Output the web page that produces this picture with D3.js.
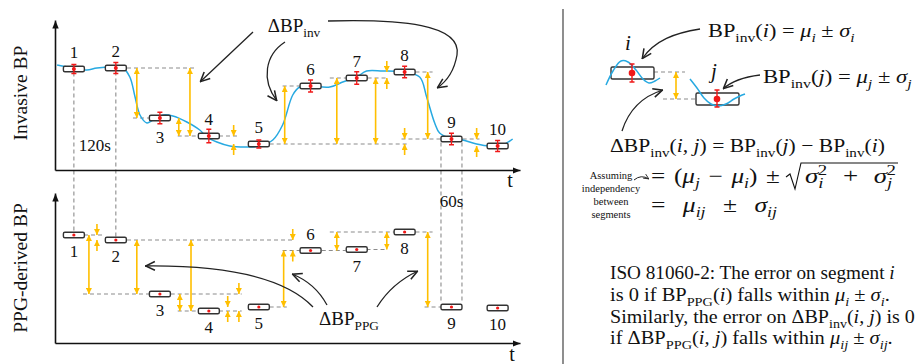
<!DOCTYPE html>
<html>
<head>
<meta charset="utf-8">
<script src="https://cdn.jsdelivr.net/npm/d3@7"></script>
<style>
  body { margin: 0; background: #fff; }
</style>
</head>
<body>
<div id="chart"></div>
<script>
// segment data (time in s = centre of 60 s segment, BP in mmHg)
var segLabels = ["1", "2", "3", "4", "5", "6", "7", "8", "9", "10"];
var segTime = [54, 174, 300, 440, 583, 731, 863, 1000, 1134, 1266];
var invMean = [110.4, 110.8, 90.8, 83.6, 80.4, 103.6, 106.8, 109.2, 82.4, 79.6];
var invSigma = [1.8, 2.2, 2.3, 2.7, 1.6, 2.4, 2.5, 2.3, 2.3, 2.2];
var ppgMean = [113.2, 111.2, 89.6, 82.8, 84.4, 107.0, 107.4, 114.4, 84.4, 84.0];
var invLabelSide = ["up", "up", "down", "up", "up", "up", "up", "up", "up", "up"];
var ppgLabelSide = ["down", "down", "down", "down", "down", "up", "down", "down", "down", "down"];

// continuous invasive trace
var curveTime = [6, 51, 91, 120, 171, 194, 214, 229, 243, 263, 280, 309, 337, 377, 414, 434, 463, 500, 549, 586,
                 623, 651, 680, 700, 729, 786, 823, 863, 891, 937, 994, 1043, 1063, 1086, 1100, 1129, 1166, 1206, 1243, 1280, 1309];
var curveBP = [112, 110.8, 110, 110.8, 111.2, 110.8, 107.2, 99.2, 92, 88.8, 90, 92, 91.6, 89.2, 86, 83.2, 81.2, 79.6, 79.2, 79.6,
               82, 88, 100, 103.2, 103.6, 103.2, 105.2, 107.2, 109.6, 109.6, 109.2, 107.2, 99.2, 88.8, 84.8, 82.8, 82, 80.4, 79.6, 80, 82.4];

// difference arrows: [time, segment a, segment b, kind] (d = double, i = inward)
var invDiffs = [[234, 1, 2, "d"], [386, 1, 3, "d"], [354, 2, 3, "d"], [511, 3, 4, "i"], [657, 4, 5, "d"], [806, 4, 6, "d"],
                [917, 4, 6, "d"], [949, 6, 7, "i"], [1066, 7, 8, "d"], [1000, 4, 8, "i"], [1206, 8, 9, "i"]];
var ppgDiffs = [[97, 0, 2, "d"], [120, 0, 1, "i"], [234, 1, 2, "d"], [389, 1, 3, "d"], [357, 2, 3, "d"], [494, 3, 4, "i"],
                [526, 2, 3, "i"], [654, 4, 5, "d"], [680, 1, 5, "i"], [806, 5, 7, "d"], [949, 6, 7, "d"], [1066, 7, 8, "d"]];

// dashed level guides: [segment, t0, t1]
var invGuides = [[1, 206, 400], [2, 223, 269], [3, 351, 409], [3, 469, 529], [4, 614, 1006], [5, 651, 700],
                 [6, 786, 834], [6, 894, 951], [7, 1031, 1080], [8, 991, 1106], [8, 1166, 1214]];
var ppgGuides = [[0, 83, 143], [1, 206, 680], [2, 80, 269], [2, 331, 534], [3, 351, 409], [3, 469, 534], [4, 614, 663],
                 [5, 651, 700], [5, 763, 831], [6, 891, 943], [7, 786, 971], [7, 1031, 1080], [8, 1057, 1106]];
// vertical links between the panels: [time, segment]
var linkGuides = [[54, 0], [174, 1], [1104, 8], [1164, 8]];

var w = 922;
var h = 364;
var FONT = "'Liberation Serif', 'DejaVu Serif', serif";
var GOLD = "#ffbf00";
var BLUE = "#27a9e1";

var x = d3.scaleLinear().domain([0, 1330]).range([55, 520]);
var yInv = d3.scaleLinear().domain([70, 130]).range([170, 20]);
var yPpg = d3.scaleLinear().domain([70, 130]).range([343, 193]);

var svg = d3.select("#chart").append("svg")
    .attr("width", w).attr("height", h)
    .style("background", "#fff");

var defs = svg.append("defs");
function marker(id, size, d, fill, stroke) {
    defs.append("marker")
        .attr("id", id)
        .attr("viewBox", "0 0 10 10")
        .attr("refX", 10).attr("refY", 5)
        .attr("markerUnits", "userSpaceOnUse")
        .attr("markerWidth", size).attr("markerHeight", size)
        .attr("orient", "auto-start-reverse")
        .append("path").attr("d", d)
        .attr("fill", fill).attr("stroke", stroke).attr("stroke-width", stroke == "none" ? 0 : 1.4);
}
marker("axisHead", 8, "M0,1 L10,5 L0,9 z", "#111", "none");
marker("gold", 6, "M0,0 L10,5 L0,10 z", GOLD, "none");
marker("open", 11, "M1,1 L9.5,5 L1,9", "none", "#222");
marker("openSmall", 6, "M1,1 L9.5,5 L1,9", "none", "#222");

// text with italic / sub / superscript runs, optionally stretched to a width
function rich(g, px, py, parts, size, anchor, fitWidth, wordSpace) {
    var t = g.append("text").attr("x", px).attr("y", py)
        .attr("font-size", size).attr("font-family", FONT).attr("fill", "#111");
    if (anchor) t.attr("text-anchor", anchor);
    if (wordSpace) t.attr("word-spacing", wordSpace);
    var cur = 0;
    parts.forEach(function(p) {
        var st = p[1];
        var sub = st.indexOf("s") >= 0, sup = st.indexOf("^") >= 0, it = st.indexOf("i") >= 0;
        var off = sub ? size * 0.26 : (sup ? -size * 0.4 : 0);
        var ts = t.append("tspan").attr("dy", off - cur)
            .attr("font-size", (sub || sup) ? size * 0.7 : size)
            .text(p[0]);
        if (it) ts.attr("font-style", "italic");
        if (p[2]) ts.attr("dx", p[2]);
        cur = off;
    });
    if (fitWidth) {
        var nat = t.node().getBBox().width;
        var sx = fitWidth / nat;
        t.attr("transform", "translate(" + px + ",0) scale(" + sx + ",1) translate(" + (-px) + ",0)");
    }
    return t;
}

function panel(yScale, means, sigmas, labelSide, guides, diffs, showTrace) {
    var g = svg.append("g");

    // axes
    var xa = g.append("g").attr("transform", "translate(0," + yScale(70) + ")")
        .call(d3.axisBottom(x).ticks(0).tickSizeOuter(0));
    xa.select(".domain").attr("stroke", "#111").attr("stroke-width", 1.6).attr("marker-end", "url(#axisHead)");
    var ya = g.append("g").attr("transform", "translate(" + x(0) + ",0)")
        .call(d3.axisLeft(yScale).ticks(0).tickSizeOuter(0));
    ya.select(".domain").attr("stroke", "#111").attr("stroke-width", 1.6).attr("marker-end", "url(#axisHead)");

    // dashed guides
    g.selectAll(".guide").data(guides).enter().append("line")
        .attr("x1", function(d) { return x(d[1]); })
        .attr("x2", function(d) { return x(d[2]); })
        .attr("y1", function(d) { return yScale(means[d[0]]); })
        .attr("y2", function(d) { return yScale(means[d[0]]); })
        .attr("stroke", "#8c8c8c").attr("stroke-width", 1.1).attr("stroke-dasharray", "4,3");

    if (showTrace) {
        var line = d3.line()
            .x(function(d, i) { return x(curveTime[i]); })
            .y(function(d) { return yScale(d); })
            .curve(d3.curveCatmullRom);
        g.append("path").attr("d", line(curveBP))
            .attr("fill", "none").attr("stroke", BLUE).attr("stroke-width", 1.5);
    }

    // difference arrows
    diffs.forEach(function(d) {
        var ya1 = yScale(means[d[1]]), yb1 = yScale(means[d[2]]);
        var top = Math.min(ya1, yb1), bot = Math.max(ya1, yb1);
        var cx = x(d[0]);
        if (d[3] == "d") {
            g.append("line").attr("x1", cx).attr("x2", cx).attr("y1", top).attr("y2", bot)
                .attr("stroke", GOLD).attr("stroke-width", 1.6)
                .attr("marker-start", "url(#gold)").attr("marker-end", "url(#gold)");
        } else {
            g.append("line").attr("x1", cx).attr("x2", cx).attr("y1", top - 11).attr("y2", top)
                .attr("stroke", GOLD).attr("stroke-width", 1.6).attr("marker-end", "url(#gold)");
            g.append("line").attr("x1", cx).attr("x2", cx).attr("y1", bot + 11).attr("y2", bot)
                .attr("stroke", GOLD).attr("stroke-width", 1.6).attr("marker-end", "url(#gold)");
        }
    });

    // segments
    var seg = g.selectAll(".seg").data(means).enter().append("g");
    seg.append("rect")
        .attr("x", function(d, i) { return x(segTime[i] - 30); })
        .attr("y", function(d) { return yScale(d) - 2.8; })
        .attr("width", function(d, i) { return x(segTime[i] + 30) - x(segTime[i] - 30); })
        .attr("height", 5.6).attr("rx", 1.5)
        .attr("fill", "#fff").attr("stroke", "#333").attr("stroke-width", 1.4);
    if (sigmas) {
        seg.append("path")
            .attr("d", function(d, i) {
                var cx = x(segTime[i]), y0 = yScale(d + sigmas[i]), y1 = yScale(d - sigmas[i]);
                return "M" + (cx - 2.5) + "," + y0 + "H" + (cx + 2.5) + "M" + cx + "," + y0 + "V" + y1 +
                       "M" + (cx - 2.5) + "," + y1 + "H" + (cx + 2.5);
            })
            .attr("stroke", "#f01818").attr("stroke-width", 1.3).attr("fill", "none");
    }
    seg.append("circle")
        .attr("cx", function(d, i) { return x(segTime[i]); })
        .attr("cy", function(d) { return yScale(d); })
        .attr("r", sigmas ? 2 : 1.6).attr("fill", "#f01818");
    seg.append("text")
        .attr("x", function(d, i) { return x(segTime[i]); })
        .attr("y", function(d, i) { return yScale(d) + (labelSide[i] == "up" ? -11 : (sigmas ? 25 : 22)); })
        .attr("text-anchor", "middle")
        .attr("font-family", FONT).attr("font-size", 17).attr("fill", "#111")
        .text(function(d, i) { return segLabels[i]; });
    return g;
}

// vertical links between the panels
svg.selectAll(".link").data(linkGuides).enter().append("line")
    .attr("x1", function(d) { return x(d[0]); })
    .attr("x2", function(d) { return x(d[0]); })
    .attr("y1", function(d) { return yInv(invMean[d[1]]) + 3.5; })
    .attr("y2", function(d) { return yPpg(ppgMean[d[1]]) - 3.5; })
    .attr("stroke", "#8c8c8c").attr("stroke-width", 1.1).attr("stroke-dasharray", "4,3");

panel(yInv, invMean, invSigma, invLabelSide, invGuides, invDiffs, true);
panel(yPpg, ppgMean, null, ppgLabelSide, ppgGuides, ppgDiffs, false);

// axis titles
svg.append("text").attr("transform", "translate(27,93) rotate(-90)")
    .attr("text-anchor", "middle").attr("font-family", FONT).attr("font-size", 19.5).attr("fill", "#111")
    .text("Invasive BP");
svg.append("text").attr("transform", "translate(27,268) rotate(-90)")
    .attr("text-anchor", "middle").attr("font-family", FONT).attr("font-size", 19.5).attr("fill", "#111")
    .text("PPG-derived BP");
svg.append("text").attr("x", 510).attr("y", 187).attr("text-anchor", "middle")
    .attr("font-family", FONT).attr("font-size", 20).attr("fill", "#111").text("t");
svg.append("text").attr("x", 512).attr("y", 361).attr("text-anchor", "middle")
    .attr("font-family", FONT).attr("font-size", 20).attr("fill", "#111").text("t");
svg.append("text").attr("x", x(114)).attr("y", 151).attr("text-anchor", "middle")
    .attr("font-family", FONT).attr("font-size", 17).attr("fill", "#111").text("120s");
svg.append("text").attr("x", x(1134)).attr("y", 207).attr("text-anchor", "middle")
    .attr("font-family", FONT).attr("font-size", 17).attr("fill", "#111").text("60s");

// annotation labels and arrows
rich(svg, 294, 32, [["ΔBP", "n"], ["inv", "s"]], 19, "middle");
rich(svg, 349, 325, [["ΔBP", "n"], ["PPG", "s"]], 19, "middle");

var notePaths = [
    "M253,32 L200,82",
    "M285,42 C265,55 261,80 277,101",
    "M328,21 C400,19 462,24 457,55 C454,72 446,82 437,88",
    "M313,307 C288,281 235,265 145,266",
    "M327,305 Q315,283 292,274",
    "M377,307 Q392,283 418,271",
    "M700,29 C675,33 655,40 642,59",
    "M760,75 Q735,78 723,89",
    "M622,131 C628,112 640,97 663,90"
];
svg.selectAll(".note").data(notePaths).enter().append("path")
    .attr("d", function(d) { return d; })
    .attr("fill", "none").attr("stroke", "#222").attr("stroke-width", 1.3)
    .attr("marker-end", "url(#open)");
svg.append("path").attr("d", "M634,180 Q641,174 649,179")
    .attr("fill", "none").attr("stroke", "#222").attr("stroke-width", 1)
    .attr("marker-end", "url(#openSmall)");

// divider
svg.append("line").attr("x1", 563).attr("x2", 563).attr("y1", 9).attr("y2", h)
    .attr("stroke", "#444").attr("stroke-width", 1.2);

// schematic of two segments
var sideBoxes = [
    { name: "i", x0: 611, y0: 67, cx: 632, cy: 73, bar: [64, 82], lx: 628, ly: 50,
      wave: [[606, 85], [613, 71], [621, 61], [628, 62], [636, 70], [643, 79], [649, 83], [655, 81], [660, 78]] },
    { name: "j", x0: 696, y0: 93, cx: 717, cy: 99, bar: [90, 107], lx: 714, ly: 78,
      wave: [[690, 79], [697, 88], [704, 98], [711, 104], [718, 106], [726, 104], [734, 99], [740, 96], [745, 94]] }
];
var side = svg.append("g");
side.append("line").attr("x1", 654).attr("x2", 685).attr("y1", 72).attr("y2", 72)
    .attr("stroke", "#8c8c8c").attr("stroke-width", 1.1).attr("stroke-dasharray", "4,3");
side.append("line").attr("x1", 663).attr("x2", 696).attr("y1", 99).attr("y2", 99)
    .attr("stroke", "#8c8c8c").attr("stroke-width", 1.1).attr("stroke-dasharray", "4,3");
side.append("line").attr("x1", 676).attr("x2", 676).attr("y1", 72).attr("y2", 99)
    .attr("stroke", GOLD).attr("stroke-width", 1.6)
    .attr("marker-start", "url(#gold)").attr("marker-end", "url(#gold)");
sideBoxes.forEach(function(b) {
    side.append("rect").attr("x", b.x0).attr("y", b.y0).attr("width", 43).attr("height", 12).attr("rx", 1.5)
        .attr("fill", "none").attr("stroke", "#333").attr("stroke-width", 1.4);
    side.append("path").attr("d", d3.line().curve(d3.curveCatmullRom)(b.wave))
        .attr("fill", "none").attr("stroke", BLUE).attr("stroke-width", 1.5);
    side.append("path")
        .attr("d", "M" + (b.cx - 2.5) + "," + b.bar[0] + "H" + (b.cx + 2.5) + "M" + b.cx + "," + b.bar[0] + "V" + b.bar[1] +
              "M" + (b.cx - 2.5) + "," + b.bar[1] + "H" + (b.cx + 2.5))
        .attr("stroke", "#f01818").attr("stroke-width", 1.4).attr("fill", "none");
    side.append("circle").attr("cx", b.cx).attr("cy", b.cy).attr("r", 3.3).attr("fill", "#f01818");
    side.append("text").attr("x", b.lx).attr("y", b.ly).attr("text-anchor", "middle")
        .attr("font-family", FONT).attr("font-size", 21).attr("font-style", "italic").attr("fill", "#111")
        .text(b.name);
});

// formulas
rich(svg, 708, 37, [["BP", "n"], ["inv", "s"], ["(", "n"], ["i", "i"], [") = ", "n"], ["μ", "i"], ["i", "si"],
                    [" ± ", "n"], ["σ", "i"], ["i", "si"]], 19, null, 147);
rich(svg, 763, 83, [["BP", "n"], ["inv", "s"], ["(", "n"], ["j", "i"], [") = ", "n"], ["μ", "i"], ["j", "si"],
                    [" ± ", "n"], ["σ", "i"], ["j", "si"]], 19, null, 149);
rich(svg, 610, 152, [["ΔBP", "n"], ["inv", "s"], ["(", "n"], ["i, j", "i"], [") = BP", "n"], ["inv", "s"], ["(", "n"],
                     ["j", "i"], [") − BP", "n"], ["inv", "s"], ["(", "n"], ["i", "i"], [")", "n"]], 19, null, 275);
rich(svg, 651, 183, [["= (", "n"], ["μ", "i"], ["j", "si"], [" − ", "n"], ["μ", "i"], ["i", "si"], [") ±", "n"]], 21, null, 129, 2);
var r0 = 786;
rich(svg, 805, 183, [["σ", "i"], ["i", "si"], ["2", "^", -4.5], [" + ", "n"], ["σ", "i"], ["j", "si"], ["2", "^", -4.5]], 21, null, 91, 7);
svg.append("path")
    .attr("d", "M" + r0 + "," + 177 + " L" + (r0 + 4) + "," + 174 + " L" + (r0 + 9) + "," + 189 +
          " L" + (r0 + 15) + "," + 163 + " L" + 898 + "," + 163)
    .attr("fill", "none").attr("stroke", "#111").attr("stroke-width", 1.1);
rich(svg, 651, 212, [["= ", "n"], ["μ", "i"], ["ij", "si"], [" ± ", "n"], ["σ", "i"], ["ij", "si"]], 21, null, 126, 9);

var assumeLines = ["Assuming", "independency", "between", "segments"];
var assumeY = [179, 192, 205, 218];
svg.selectAll(".assume").data(assumeLines).enter().append("text")
    .attr("x", 611).attr("y", function(d, i) { return assumeY[i]; })
    .attr("text-anchor", "middle").attr("font-family", FONT).attr("font-size", 10.5).attr("fill", "#111")
    .text(function(d) { return d; });

// ISO paragraph
var paraY = [279, 301, 323, 344];
var paraW = [285, 280, 305, 283];
rich(svg, 610, paraY[0], [["ISO 81060-2: The error on segment ", "n"], ["i", "i"]], 18, null, paraW[0]);
rich(svg, 610, paraY[1], [["is 0 if BP", "n"], ["PPG", "s"], ["(", "n"], ["i", "i"], [") falls within ", "n"], ["μ", "i"],
                          ["i", "si"], [" ± ", "n"], ["σ", "i"], ["i", "si"], [".", "n"]], 18, null, paraW[1]);
rich(svg, 610, paraY[2], [["Similarly, the error on ΔBP", "n"], ["inv", "s"], ["(", "n"], ["i, j", "i"], [") is 0", "n"]], 18, null, paraW[2]);
rich(svg, 610, paraY[3], [["if ΔBP", "n"], ["PPG", "s"], ["(", "n"], ["i, j", "i"], [") falls within ", "n"], ["μ", "i"],
                          ["ij", "si"], [" ± ", "n"], ["σ", "i"], ["ij", "si"], [".", "n"]], 18, null, paraW[3]);
</script>
</body>
</html>
